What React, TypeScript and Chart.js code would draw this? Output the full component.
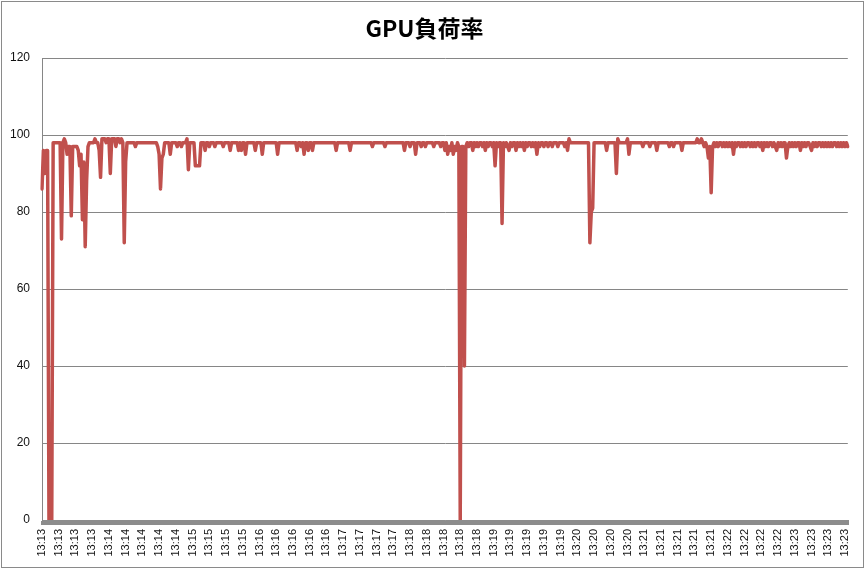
import React, { useEffect, useRef } from "react";
import { Chart, registerables } from "chart.js";

Chart.register(...registerables);

const chartTitle = "GPU負荷率";

// one label every `pointsPerTick` samples along the category axis
const pointsPerTick = 12;
const tickLabels = [
  "13:13", "13:13", "13:13", "13:13",
  "13:14", "13:14", "13:14", "13:14", "13:14",
  "13:15", "13:15", "13:15", "13:15",
  "13:16", "13:16", "13:16", "13:16", "13:16",
  "13:17", "13:17", "13:17", "13:17",
  "13:18", "13:18", "13:18", "13:18", "13:18",
  "13:19", "13:19", "13:19", "13:19", "13:19",
  "13:20", "13:20", "13:20", "13:20",
  "13:21", "13:21", "13:21", "13:21", "13:21",
  "13:22", "13:22", "13:22", "13:22",
  "13:23", "13:23", "13:23", "13:23",
];

// GPU load (%), 579 samples (12 per label row)
const gpuLoad = [
  86, 96, 90, 96, 96, 0, 9, 0, 98, 98, 98, 98,
  98, 98, 73, 98, 99, 98, 95, 97, 97, 79, 97, 97,
  97, 97, 96, 92, 95, 78, 93, 71, 88, 97, 98, 98,
  98, 98, 99, 98, 98, 96, 89, 99, 99, 99, 98, 99,
  99, 90, 99, 99, 99, 97, 99, 99, 98, 99, 98, 72,
  93, 98, 98, 98, 98, 98, 98, 97, 98, 98, 98, 98,
  98, 98, 98, 98, 98, 98, 98, 98, 98, 98, 98, 97,
  95, 86, 94, 95, 98, 98, 98, 98, 95, 98, 98, 98,
  98, 97, 98, 98, 97, 98, 98, 98, 99, 91, 98, 98,
  98, 98, 92, 92, 92, 92, 98, 98, 98, 96, 98, 98,
  97, 98, 98, 98, 97, 98, 98, 98, 98, 98, 97, 98,
  98, 98, 98, 96, 98, 98, 98, 98, 98, 96, 98, 96,
  98, 98, 95, 98, 98, 98, 98, 98, 98, 96, 98, 98,
  98, 98, 95, 98, 98, 98, 98, 98, 98, 98, 98, 98,
  98, 95, 98, 98, 98, 98, 98, 98, 98, 98, 98, 98,
  98, 98, 98, 96, 98, 98, 97, 98, 95, 98, 98, 96,
  98, 98, 96, 98, 98, 98, 98, 98, 98, 98, 98, 98,
  98, 98, 98, 98, 98, 98, 98, 96, 98, 98, 98, 98,
  98, 98, 98, 98, 98, 96, 98, 98, 98, 98, 98, 98,
  98, 98, 98, 98, 98, 98, 98, 98, 98, 97, 98, 98,
  98, 98, 98, 98, 98, 98, 97, 98, 98, 98, 98, 98,
  98, 98, 98, 98, 98, 98, 98, 98, 96, 98, 98, 98,
  97, 98, 98, 98, 95, 98, 98, 98, 97, 98, 98, 97,
  98, 98, 98, 98, 98, 97, 98, 98, 98, 98, 97, 98,
  98, 96, 98, 95, 97, 96, 98, 95, 97, 96, 98, 97,
  0, 97, 97, 40, 97, 98, 97, 98, 98, 96, 98, 97,
  98, 97, 98, 98, 97, 98, 96, 98, 97, 98, 98, 97,
  98, 92, 98, 97, 98, 98, 77, 98, 97, 98, 97, 96,
  98, 97, 98, 98, 96, 98, 97, 98, 97, 98, 96, 98,
  97, 98, 98, 97, 98, 97, 98, 95, 98, 97, 98, 98,
  97, 98, 98, 97, 98, 98, 97, 98, 98, 98, 97, 98,
  98, 98, 98, 97, 98, 96, 99, 98, 98, 98, 98, 98,
  98, 98, 98, 98, 98, 98, 98, 98, 98, 72, 80, 81,
  98, 98, 98, 98, 98, 98, 98, 98, 98, 96, 98, 98,
  98, 98, 98, 98, 90, 99, 98, 98, 98, 98, 98, 98,
  99, 95, 98, 98, 98, 98, 98, 98, 98, 98, 98, 97,
  98, 98, 98, 98, 97, 98, 98, 98, 98, 96, 98, 98,
  98, 98, 98, 98, 98, 98, 97, 98, 98, 97, 98, 98,
  98, 98, 98, 96, 98, 98, 98, 98, 98, 98, 98, 98,
  98, 98, 99, 98, 98, 99, 98, 97, 98, 97, 94, 97,
  85, 97, 98, 97, 98, 97, 98, 98, 97, 98, 97, 98,
  97, 98, 97, 98, 95, 98, 97, 98, 98, 97, 98, 97,
  98, 97, 98, 98, 97, 98, 97, 98, 97, 98, 98, 97,
  98, 96, 98, 97, 98, 97, 98, 98, 97, 98, 97, 96,
  98, 97, 98, 97, 98, 98, 94, 97, 98, 97, 98, 97,
  98, 97, 98, 98, 96, 98, 97, 98, 97, 98, 98, 97,
  96, 98, 97, 98, 97, 98, 98, 97, 98, 97, 98, 97,
  98, 97, 98, 97, 98, 98, 97, 98, 97, 98, 97, 98,
  97, 98, 97,
];

const yMin = 0;
const yMax = 120;
const yStep = 20;

export default function App() {
  const canvasRef = useRef<HTMLCanvasElement | null>(null);

  useEffect(() => {
    document.body.style.margin = "0";
    const canvas = canvasRef.current;
    if (!canvas) return;
    const categories = gpuLoad.map((_, i) =>
      i % pointsPerTick === 0 ? tickLabels[i / pointsPerTick] ?? "" : ""
    );
    const chart = new Chart(canvas, {
      type: "line",
      data: {
        labels: categories,
        datasets: [
          {
            data: gpuLoad,
            borderColor: "#C0504D",
            backgroundColor: "#C0504D",
            borderWidth: 3.5,
            borderJoinStyle: "round",
            borderCapStyle: "round",
            pointRadius: 0,
            tension: 0,
            fill: false,
          },
        ],
      },
      options: {
        animation: false,
        responsive: false,
        maintainAspectRatio: false,
        layout: { padding: { left: 0, right: 16, top: 0, bottom: 0 } },
        plugins: {
          legend: { display: false },
          tooltip: { enabled: false },
          title: {
            display: true,
            text: chartTitle,
            color: "#000000",
            font: { family: "'Noto Sans CJK JP', 'Noto Sans'", size: 23, weight: "bold" },
            padding: { top: 14, bottom: 16.4 },
          },
        },
        scales: {
          x: {
            type: "category",
            offset: false,
            grid: {
              display: true,
              drawOnChartArea: false,
              drawTicks: true,
              tickLength: 5,
              color: "#8c8c8c",
              lineWidth: 2,
            },
            border: { display: true, color: "#8c8c8c", width: 1 },
            ticks: {
              autoSkip: false,
              minRotation: 90,
              maxRotation: 90,
              padding: 4,
              color: "#111111",
              font: { family: "'Liberation Sans', Arial", size: 11 },
            },
            afterFit: (scale: any) => {
              scale.height = 49;
            },
          },
          y: {
            min: yMin,
            max: yMax,
            ticks: {
              stepSize: yStep,
              padding: 12,
              color: "#111111",
              font: { family: "'Liberation Sans', Arial", size: 12 },
            },
            grid: { color: "#868686", drawTicks: false, lineWidth: 1 },
            border: { display: true, color: "#868686", width: 1 },
            afterFit: (scale: any) => {
              scale.width = 42;
            },
          },
        },
      },
    });
    return () => chart.destroy();
  }, []);

  return (
    <div style={{ position: "relative", width: 865, height: 569, background: "#ffffff" }}>
      <canvas ref={canvasRef} width={865} height={569} style={{ display: "block" }} />
      <div
        style={{
          position: "absolute",
          left: 1,
          top: 1,
          width: 863,
          height: 567,
          border: "1px solid #8a8a8a",
          boxSizing: "border-box",
          pointerEvents: "none",
        }}
      />
    </div>
  );
}
